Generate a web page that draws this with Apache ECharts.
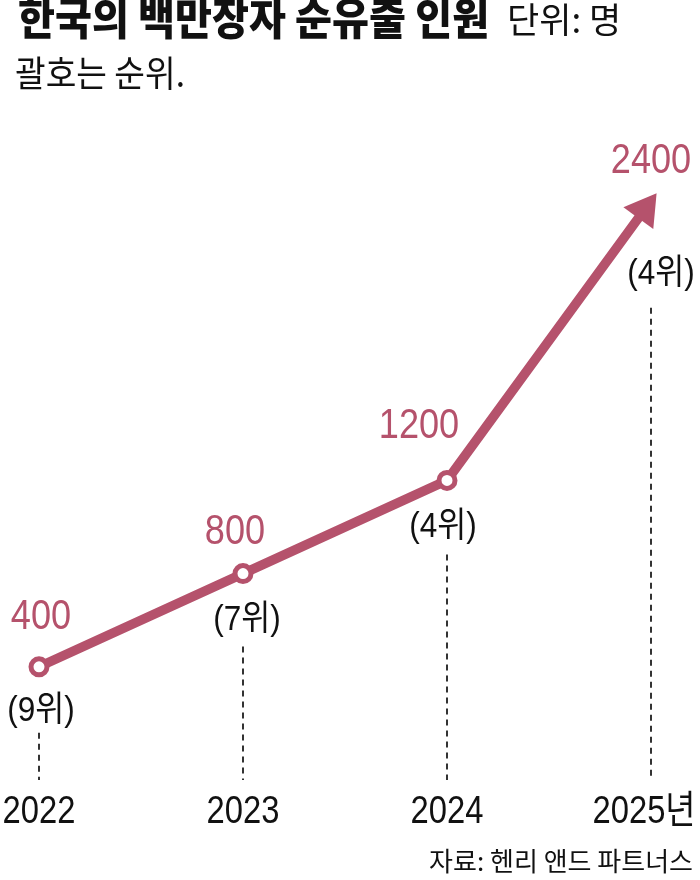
<!DOCTYPE html>
<html>
<head>
<meta charset="utf-8">
<script src="https://cdn.jsdelivr.net/npm/echarts@6/dist/echarts.min.js"></script>
<style>
html,body{margin:0;padding:0;background:#fff;}
#c{width:700px;height:880px;}
</style>
</head>
<body>
<div id="c"></div>
<script>
// ---- data ----
const years = ['2022', '2023', '2024', '2025'];
const values = [400, 800, 1200, 2400];
const ranks = [9, 7, 4, 4];
const yearSuffix = '년';
const titleText = '한국의 백만장자 순유출 인원';
const unitText = '단위: 명';
const noteText = '괄호는 순위.';
const sourceText = '자료: 헨리 앤드 파트너스';

// ---- layout / style (pixels) ----
const PINK = '#b5526c';
const INK = '#111111';
const LAT = "'Liberation Sans', 'Noto Sans CJK KR', sans-serif";
const KR = "'Noto Sans CJK KR', sans-serif";
const valueLabelOffsets = [[2, -49], [-8, -41], [-28, -54], [0, -39]];
const rankLabelOffsets = [[2, 45], [4, 47], [-4, 47], [10, 74]];
const yearLabelDx = [0, 0, 0, -7];
const yearLabelDy = 52;
const dashTopGap = [66, 73, 74, 107];
const dashBottomY = 780;

const chart = echarts.init(document.getElementById('c'), null, {renderer: 'canvas'});

function pointData() {
  return years.map(function (y, i) { return [i, values[i]]; });
}

function textSeries(makeText, offsets, font, color, scaleX, baseAtAxis) {
  return {
    type: 'custom',
    silent: true,
    z: 5,
    clip: false,
    data: pointData(),
    renderItem: function (params, api) {
      const i = params.dataIndex;
      const p = api.coord([api.value(0), baseAtAxis ? 0 : api.value(1)]);
      const off = offsets(i);
      return {
        type: 'text',
        x: p[0] + off[0],
        y: p[1] + off[1],
        scaleX: scaleX,
        style: {text: makeText(i), font: font, fill: color, align: 'center', verticalAlign: 'middle'}
      };
    }
  };
}

const option = {
  animation: false,
  backgroundColor: '#fff',
  grid: {left: 39, right: 49, top: 61, bottom: 120, containLabel: false},
  xAxis: {
    type: 'category',
    data: years,
    boundaryGap: false,
    axisLine: {show: false},
    axisTick: {show: false},
    splitLine: {show: false},
    axisLabel: {show: false}
  },
  yAxis: {type: 'value', min: 0, max: 3000, show: false, splitLine: {show: false}},
  graphic: [
    {type: 'text', x: 18, y: -4, scaleX: 0.913, style: {text: titleText, font: '900 44px ' + KR, fill: INK, textVerticalAlign: 'top'}},
    {type: 'text', x: 507, y: 2, style: {text: unitText, font: '35px ' + KR, fill: INK, textVerticalAlign: 'top'}},
    {type: 'text', x: 15, y: 55, scaleX: 0.925, style: {text: noteText, font: '36px ' + KR, fill: INK, textVerticalAlign: 'top'}},
    {type: 'text', x: 693, y: 848, style: {text: sourceText, font: '26px ' + KR, fill: INK, textAlign: 'right', textVerticalAlign: 'top'}}
  ],
  series: [
    {
      type: 'custom',
      silent: true,
      z: 1,
      clip: false,
      data: pointData(),
      renderItem: function (params, api) {
        const p = api.coord([api.value(0), api.value(1)]);
        return {
          type: 'line',
          shape: {x1: p[0], y1: p[1] + dashTopGap[params.dataIndex], x2: p[0], y2: dashBottomY},
          style: {stroke: '#333', lineWidth: 2, lineDash: [6, 5]}
        };
      }
    },
    {
      type: 'line',
      z: 3,
      data: values.map(function (v, i) {
        return i === values.length - 1 ? {value: v, symbol: 'none'} : {value: v};
      }),
      symbol: 'circle',
      symbolSize: 16,
      lineStyle: {color: PINK, width: 9.5},
      itemStyle: {color: '#fff', borderColor: PINK, borderWidth: 5},
      emphasis: {disabled: true},
      markLine: {
        silent: true,
        symbol: ['none', 'triangle'],
        symbolSize: [37, 31],
        symbolOffset: [0, [0, 6]],
        label: {show: false},
        lineStyle: {color: PINK, width: 0, type: 'solid'},
        emphasis: {disabled: true},
        data: [[{coord: [years[2], values[2]]}, {coord: [years[3], values[3]]}]]
      }
    },
    textSeries(function (i) { return String(values[i]); },
      function (i) { return valueLabelOffsets[i]; }, '42px ' + LAT, PINK, 0.86, false),
    textSeries(function (i) { return '(' + ranks[i] + '위)'; },
      function (i) { return rankLabelOffsets[i]; }, '35px ' + LAT, INK, 0.9, false),
    textSeries(function (i) { return years[i] + (i === years.length - 1 ? yearSuffix : ''); },
      function (i) { return [yearLabelDx[i], yearLabelDy]; }, '39px ' + LAT, INK, 0.84, true)
  ]
};
chart.setOption(option);
</script>
</body>
</html>
